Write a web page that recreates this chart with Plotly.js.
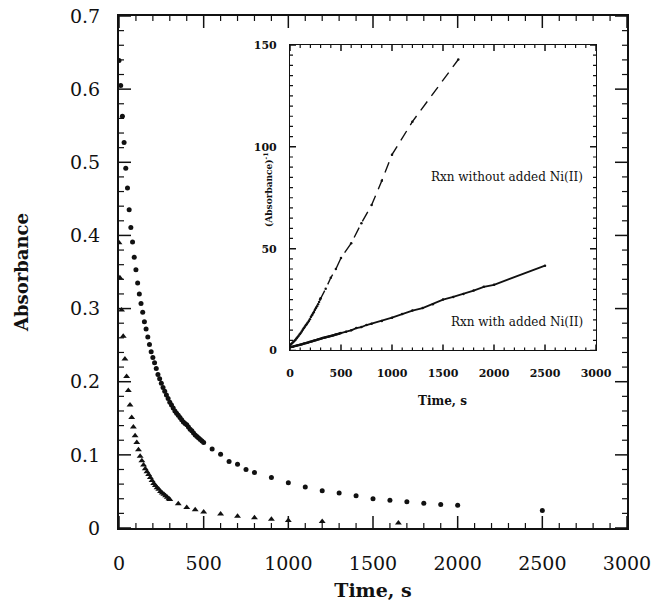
<!DOCTYPE html>
<html><head><meta charset="utf-8">
<script src="https://cdn.plot.ly/plotly-3.0.1.min.js"></script>
<style>html,body{margin:0;padding:0;background:#fff}#chart{width:654px;height:602px}</style>
</head><body><div id="chart"></div>
<script>
// Reaction with added Ni(II) (circles)
const timeWithNi = [0,10,20,30,40,50,60,70,80,90,100,110,120,130,140,150,160,170,180,190,200,210,220,230,240,250,260,270,280,290,300,310,320,330,340,350,360,370,380,390,400,410,420,430,440,450,460,470,480,490,500,550,600,650,700,750,800,900,1000,1100,1200,1300,1400,1500,1600,1700,1800,1900,2000,2500];
const absWithNi = [0.639,0.605,0.563,0.527,0.492,0.465,0.435,0.411,0.391,0.370,0.353,0.335,0.320,0.307,0.295,0.282,0.272,0.261,0.251,0.241,0.233,0.226,0.218,0.210,0.204,0.198,0.192,0.187,0.182,0.177,0.172,0.168,0.164,0.160,0.157,0.154,0.151,0.148,0.145,0.143,0.141,0.138,0.135,0.133,0.130,0.127,0.125,0.123,0.121,0.119,0.117,0.108,0.101,0.091,0.087,0.080,0.076,0.069,0.062,0.056,0.051,0.048,0.044,0.040,0.038,0.036,0.034,0.032,0.031,0.024];
// Reaction without added Ni(II) (triangles)
const timeWithoutNi = [0,5,15,25,35,45,55,65,75,85,95,105,115,125,135,145,155,165,175,185,195,205,215,225,235,245,255,265,275,285,295,300,350,400,450,500,600,700,800,900,1000,1200,1650];
const absWithoutNi = [0.390,0.342,0.298,0.262,0.231,0.207,0.188,0.168,0.151,0.138,0.126,0.117,0.107,0.098,0.092,0.086,0.081,0.077,0.073,0.069,0.065,0.061,0.058,0.055,0.053,0.050,0.048,0.046,0.044,0.042,0.040,0.039,0.033,0.028,0.025,0.022,0.019,0.016,0.014,0.012,0.0104,0.0089,0.007];

// axis ranges and tick steps
const mainXRange = [0, 3000], mainXStep = 500, mainXMinor = 100;
const mainYRange = [0, 0.7], mainYStep = 0.1, mainYMinor = 0.02;
const insetXRange = [0, 3000], insetXStep = 500, insetXMinor = 100;
const insetYRange = [0, 150], insetYStep = 50, insetYMinor = 5;

const invWithNi = absWithNi.map(v => 1 / v);
const invWithoutNi = absWithoutNi.map(v => 1 / v);

const serif = 'DejaVu Serif';
const ink = '#111';
const clear = 'rgba(0,0,0,0)';

// plot-area sizes in px (fixed page) used to turn tick lengths into domain fractions
const mainW = 508, mainH = 512;
const insetXDomain = [0.3366, 0.939], insetYDomain = [0.3467, 0.9434];
const insetW = mainW * (insetXDomain[1] - insetXDomain[0]);
const insetH = mainH * (insetYDomain[1] - insetYDomain[0]);

const traces = [
  {x: timeWithNi, y: absWithNi, type: 'scatter', mode: 'markers', xaxis: 'x', yaxis: 'y',
   marker: {symbol: 'circle', size: 5, color: ink}, showlegend: false},
  {x: timeWithoutNi, y: absWithoutNi, type: 'scatter', mode: 'markers', xaxis: 'x', yaxis: 'y',
   marker: {symbol: 'triangle-up', size: 6, color: ink}, showlegend: false},
  {x: timeWithoutNi, y: invWithoutNi, type: 'scatter', mode: 'lines+markers', xaxis: 'x2', yaxis: 'y2',
   line: {color: ink, width: 1.4, dash: '11px,7px'}, marker: {size: 2.5, color: ink}, showlegend: false},
  {x: timeWithNi, y: invWithNi, type: 'scatter', mode: 'lines+markers', xaxis: 'x2', yaxis: 'y2',
   line: {color: ink, width: 1.8}, marker: {size: 2.5, color: ink}, showlegend: false},
  // empty traces so the label-only axes get their subplots
  {x: [], y: [], type: 'scatter', mode: 'markers', xaxis: 'x3', yaxis: 'y3', showlegend: false},
  {x: [], y: [], type: 'scatter', mode: 'markers', xaxis: 'x4', yaxis: 'y4', showlegend: false}
];

// inside tick marks on all four sides of a frame, placed in the axes' own coordinates
function frameTicks(xa, ya, xRange, xMajor, xMinor, yRange, yMajor, yMinor, w, h, majLen, minLen) {
  const shapes = [];
  const nx = Math.round((xRange[1] - xRange[0]) / xMinor);
  const perX = Math.round(xMajor / xMinor);
  for (let k = 0; k <= nx; k++) {
    const v = xRange[0] + k * xMinor;
    const major = k % perX === 0;
    const f = (major ? majLen : minLen) / h;
    const line = {color: ink, width: major ? 1.5 : 1.2};
    shapes.push({type: 'line', xref: xa, yref: ya + ' domain', x0: v, x1: v, y0: 0, y1: f, line: line, layer: 'above'});
    shapes.push({type: 'line', xref: xa, yref: ya + ' domain', x0: v, x1: v, y0: 1, y1: 1 - f, line: line, layer: 'above'});
  }
  const ny = Math.round((yRange[1] - yRange[0]) / yMinor);
  const perY = Math.round(yMajor / yMinor);
  for (let k = 0; k <= ny; k++) {
    const v = yRange[0] + k * yMinor;
    const major = k % perY === 0;
    const f = (major ? majLen : minLen) / w;
    const line = {color: ink, width: major ? 1.5 : 1.2};
    shapes.push({type: 'line', xref: xa + ' domain', yref: ya, x0: 0, x1: f, y0: v, y1: v, line: line, layer: 'above'});
    shapes.push({type: 'line', xref: xa + ' domain', yref: ya, x0: 1, x1: 1 - f, y0: v, y1: v, line: line, layer: 'above'});
  }
  return shapes;
}

function frameAxis(extra, big) {
  return Object.assign({
    showgrid: false, zeroline: false, showline: true, linecolor: ink, linewidth: big ? 1.6 : 1.4,
    mirror: true, ticks: '', showticklabels: false
  }, extra);
}
function labelAxis(extra, big, pad) {
  return Object.assign({
    showgrid: false, zeroline: false, showline: false,
    ticks: 'outside', ticklen: pad, tickwidth: 1, tickcolor: clear,
    tickmode: 'linear', tick0: 0,
    tickfont: big ? {family: serif, size: 19, color: ink} : {family: serif, size: 11, color: ink, weight: 'bold'}
  }, extra);
}

const shapes = frameTicks('x', 'y', mainXRange, mainXStep, mainXMinor, mainYRange, mainYStep, mainYMinor, mainW, mainH, 12, 5)
  .concat(frameTicks('x2', 'y2', insetXRange, insetXStep, insetXMinor, insetYRange, insetYStep, insetYMinor, insetW, insetH, 6, 3));

const layout = {
  width: 654, height: 602,
  margin: {l: 119, r: 27, t: 16, b: 74},
  showlegend: false,
  plot_bgcolor: 'white', paper_bgcolor: 'white',
  xaxis: frameAxis({domain: [0, 1], anchor: 'y', range: mainXRange}, true),
  yaxis: frameAxis({domain: [0, 1], anchor: 'x', range: mainYRange}, true),
  xaxis2: frameAxis({domain: insetXDomain, anchor: 'y2', range: insetXRange}, false),
  yaxis2: frameAxis({domain: insetYDomain, anchor: 'x2', range: insetYRange}, false),
  xaxis3: labelAxis({overlaying: 'x', anchor: 'y3', side: 'bottom', range: mainXRange, dtick: mainXStep,
    title: {text: 'Time, s', standoff: 10, font: {family: serif, size: 19, color: ink, weight: 'bold'}}}, true, 18),
  yaxis3: labelAxis({overlaying: 'y', anchor: 'x3', side: 'left', range: mainYRange, dtick: mainYStep,
    title: {text: 'Absorbance', standoff: 36, font: {family: serif, size: 18, color: ink, weight: 'bold'}}}, true, 14),
  xaxis4: labelAxis({overlaying: 'x2', anchor: 'y4', side: 'bottom', range: insetXRange, dtick: insetXStep}, false, 12),
  yaxis4: labelAxis({overlaying: 'y2', anchor: 'x4', side: 'left', range: insetYRange, dtick: insetYStep}, false, 10),
  shapes: shapes,
  annotations: [
    {text: 'Time, s', xref: 'paper', yref: 'paper', x: 0.636, y: 0.248, xanchor: 'center', yanchor: 'middle',
     showarrow: false, font: {family: serif, size: 12, color: ink, weight: 'bold'}},
    {text: '(Absorbance)<sup>-1</sup>', xref: 'paper', yref: 'paper', x: 0.293, y: 0.66, xanchor: 'center', yanchor: 'middle',
     textangle: -90, showarrow: false, font: {family: serif, size: 9, color: ink, weight: 'bold'}},
    {text: 'Rxn without added Ni(II)', xref: 'paper', yref: 'paper', x: 0.917, y: 0.6855, xanchor: 'right', yanchor: 'middle',
     showarrow: false, font: {family: serif, size: 12, color: ink}},
    {text: 'Rxn with added Ni(II)', xref: 'paper', yref: 'paper', x: 0.917, y: 0.402, xanchor: 'right', yanchor: 'middle',
     showarrow: false, font: {family: serif, size: 12, color: ink}}
  ]
};

Plotly.newPlot('chart', traces, layout, {displayModeBar: false});
</script>
</body></html>
